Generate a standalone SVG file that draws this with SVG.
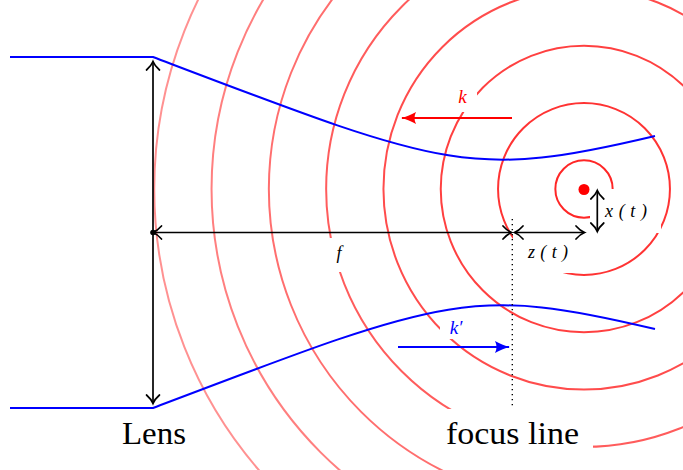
<svg xmlns="http://www.w3.org/2000/svg" width="683" height="470" viewBox="0 0 683 470">
<style>
.wave{fill:none;stroke:#ff0000;stroke-width:2}
.mask{fill:#ffffff;stroke:none}
.beam{fill:none;stroke:#0000ff;stroke-width:2}
.ax{fill:none;stroke:#000;stroke-width:1.7}
.dots{fill:none;stroke:#000;stroke-width:1.4;stroke-dasharray:1.3 3.7}
.big{font-family:"Liberation Serif",serif;font-size:31px;fill:#000}
.math{font-family:"Liberation Serif",serif;font-style:italic;font-size:18px;fill:#000}
.kred{font-family:"Liberation Serif",serif;font-style:italic;font-size:19px;fill:#ff0000}
.kblue{font-family:"Liberation Serif",serif;font-style:italic;font-size:19px;fill:#0000ff}
</style>
<defs>
<marker id="to" markerUnits="userSpaceOnUse" orient="auto-start-reverse" overflow="visible" refX="0" refY="0" markerWidth="1" markerHeight="1">
<path d="M-8.5,-6.5 C-5,-2.5 -2,-0.8 0,0 C-2,0.8 -5,2.5 -8.5,6.5" fill="none" stroke="#000" stroke-width="1.7" stroke-linecap="round"/>
</marker>
<marker id="latexR" markerUnits="userSpaceOnUse" orient="auto" overflow="visible" refX="0" refY="0" markerWidth="1" markerHeight="1">
<path d="M1,0 C-4,-1 -10,-3.5 -14,-6 C-12,-2 -12,2 -14,6 C-10,3.5 -4,1 1,0Z" fill="#ff0000"/>
</marker>
<marker id="latexB" markerUnits="userSpaceOnUse" orient="auto" overflow="visible" refX="0" refY="0" markerWidth="1" markerHeight="1">
<path d="M1,0 C-4,-1 -10,-3.5 -14,-6 C-12,-2 -12,2 -14,6 C-10,3.5 -4,1 1,0Z" fill="#0000ff"/>
</marker>
</defs>

<g id="waves">
<circle class="wave" cx="584" cy="189" r="28.65" stroke-opacity="0.85"/>
<circle class="wave" cx="584" cy="189" r="85.95" stroke-opacity="0.8"/>
<circle class="wave" cx="584" cy="189" r="143.25" stroke-opacity="0.75"/>
<circle class="wave" cx="584" cy="189" r="200.55" stroke-opacity="0.7"/>
<circle class="wave" cx="584" cy="189" r="257.85" stroke-opacity="0.64"/>
<circle class="wave" cx="584" cy="189" r="315.15" stroke-opacity="0.57"/>
<circle class="wave" cx="584" cy="189" r="372.45" stroke-opacity="0.5"/>
<circle class="wave" cx="584" cy="189" r="429.75" stroke-opacity="0.43"/>
</g>

<g id="label-backgrounds">
<rect class="mask" x="448" y="81" width="29" height="31"/>
<rect class="mask" x="326" y="238" width="26" height="34"/>
<rect class="mask" x="513" y="236" width="70" height="37"/>
<rect class="mask" x="590" y="189" width="71" height="44"/>
<rect class="mask" x="440" y="312" width="31" height="27"/>
<rect class="mask" x="432" y="409" width="161" height="49"/>
</g>

<g id="beams">
<path class="beam" d="M10,57 L153,57 C445,168 470,180 655,136"/>
<path class="beam" d="M10,408 L153,408 C445,297 470,285 655,329"/>
</g>

<g id="connectors">
<line class="ax" x1="153" y1="61.5" x2="153" y2="403.5" marker-start="url(#to)" marker-end="url(#to)"/>
<line class="ax" x1="153" y1="232.5" x2="511.5" y2="232.5" marker-start="url(#to)" marker-end="url(#to)"/>
<line class="ax" x1="514.5" y1="232.5" x2="584.5" y2="232.5" marker-start="url(#to)" marker-end="url(#to)"/>
<line class="ax" x1="597.3" y1="190.5" x2="597.3" y2="231.5" marker-start="url(#to)" marker-end="url(#to)"/>
<line class="dots" x1="512.3" y1="219" x2="512.3" y2="408"/>
<line x1="512" y1="118" x2="402" y2="118" stroke="#ff0000" stroke-width="2" marker-end="url(#latexR)"/>
<line x1="398" y1="347" x2="509" y2="347" stroke="#0000ff" stroke-width="2" marker-end="url(#latexB)"/>
</g>

<g id="lens-center"><circle cx="153" cy="232.5" r="2.8" fill="#000"/></g>
<g id="source"><circle cx="584" cy="189.5" r="5.5" fill="#ff0000"/></g>

<g id="label-k"><text class="kred" x="462.5" y="103" text-anchor="middle">k</text></g>
<g id="label-kprime"><text class="kblue" x="456" y="334" text-anchor="middle">k′</text></g>
<g id="label-f"><text class="math" x="339" y="259" text-anchor="middle">f</text></g>
<g id="label-z"><text class="math" x="528" y="258" textLength="40" lengthAdjust="spacing">z(t)</text></g>
<g id="label-x"><text class="math" x="605" y="217" textLength="42" lengthAdjust="spacing">x(t)</text></g>
<g id="label-lens"><text class="big" x="122" y="444" textLength="64" lengthAdjust="spacingAndGlyphs">Lens</text></g>
<g id="label-focus"><text class="big" x="446" y="444" textLength="133" lengthAdjust="spacingAndGlyphs">focus line</text></g>
</svg>
